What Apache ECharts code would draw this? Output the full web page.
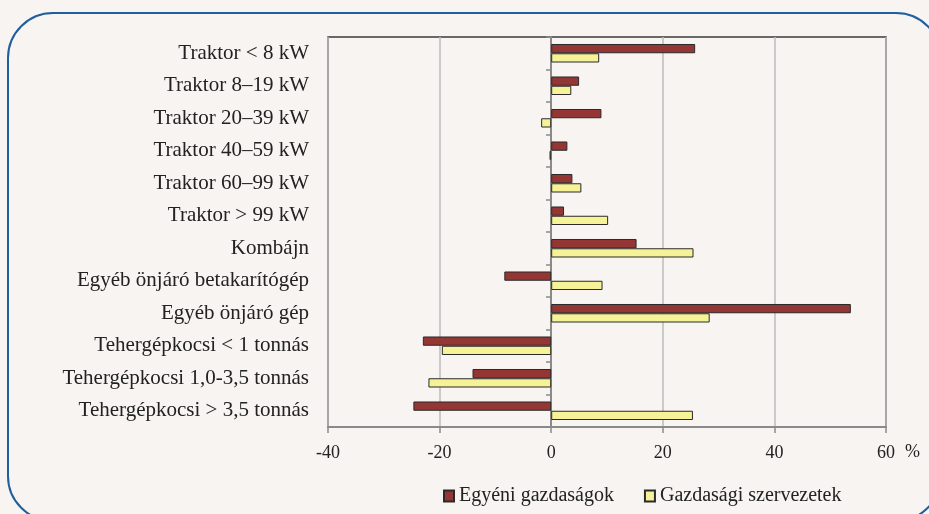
<!DOCTYPE html>
<html>
<head>
<meta charset="utf-8">
<script src="https://cdn.jsdelivr.net/npm/echarts@6/dist/echarts.min.js"></script>
<style>
html, body { margin: 0; padding: 0; background: #f7f4f1; }
#chart { width: 929px; height: 514px; }
</style>
</head>
<body>
<div id="chart"></div>
<script>
var dom = document.getElementById("chart");
var myChart = echarts.init(dom);

// categories, top to bottom
var categories = [
    'Traktor < 8 kW',
    'Traktor 8–19 kW',
    'Traktor 20–39 kW',
    'Traktor 40–59 kW',
    'Traktor 60–99 kW',
    'Traktor > 99 kW',
    'Kombájn',
    'Egyéb önjáró betakarítógép',
    'Egyéb önjáró gép',
    'Tehergépkocsi < 1 tonnás',
    'Tehergépkocsi 1,0-3,5 tonnás',
    'Tehergépkocsi > 3,5 tonnás'
];
var egyeni = [25.8, 5.0, 9.0, 2.9, 3.8, 2.3, 15.3, -8.4, 53.7, -23.0, -14.1, -24.7];
var gazdasagi = [8.6, 3.6, -1.8, -0.3, 5.4, 10.2, 25.5, 9.2, 28.4, -19.6, -22.0, 25.4];
var xTicks = [-40, -20, 0, 20, 40, 60];

var serif = '"Liberation Serif", "DejaVu Serif", serif';

var option = {
    backgroundColor: '#f7f4f1',
    animation: false,
    textStyle: { fontFamily: serif },
    graphic: [{
        type: 'rect',
        shape: { x: 8, y: 13, width: 933, height: 508, r: 45 },
        style: { fill: 'none', stroke: '#1f5f9e', lineWidth: 2 },
        silent: true
    }],
    legend: {
        top: 481,
        left: 438,
        icon: 'rect',
        itemWidth: 10,
        itemHeight: 11,
        itemGap: 30,
        textStyle: { fontFamily: serif, fontSize: 20, color: '#222' },
        data: ['Egyéni gazdaságok', 'Gazdasági szervezetek']
    },
    grid: {
        left: 328,
        right: 43,
        top: 37,
        bottom: 87,
        show: true,
        borderColor: '#3a3a3a',
        borderWidth: 1.5,
        backgroundColor: 'transparent'
    },
    xAxis: {
        type: 'value',
        min: xTicks[0],
        max: xTicks[xTicks.length - 1],
        interval: 20,
        name: '%',
        nameLocation: 'end',
        nameGap: 19,
        nameTextStyle: { fontFamily: serif, fontSize: 18, color: '#222', verticalAlign: 'top', padding: [16, 0, 0, 0] },
        axisLine: { show: true, lineStyle: { color: '#8a8a8a', width: 2 } },
        axisTick: { show: true, length: 6, lineStyle: { color: '#8a8a8a', width: 1.5 } },
        axisLabel: { fontFamily: serif, fontSize: 18, color: '#222', margin: 17 },
        splitLine: { show: true, lineStyle: { color: '#bdbdbd', width: 1.5 } }
    },
    yAxis: [{
        type: 'category',
        inverse: true,
        data: categories,
        axisLine: { show: false },
        axisTick: { show: false },
        axisLabel: { fontFamily: serif, fontSize: 21, color: '#222', margin: 19 }
    }, {
        // zero line with ticks, moved in to x = 0
        type: 'category',
        inverse: true,
        data: categories,
        position: 'left',
        offset: -223,
        axisLine: { show: true, onZero: false, lineStyle: { color: '#8a8a8a', width: 2 } },
        axisTick: { show: true, length: 5, lineStyle: { color: '#8a8a8a', width: 1.5 } },
        axisLabel: { show: false },
        splitLine: { show: false }
    }],
    series: [{
        name: 'Egyéni gazdaságok',
        type: 'bar',
        yAxisIndex: 0,
        barGap: 0,
        barCategoryGap: '43%',
        itemStyle: { color: '#943634', borderColor: '#2a2a2a', borderWidth: 1 },
        data: egyeni
    }, {
        name: 'Gazdasági szervezetek',
        type: 'bar',
        yAxisIndex: 0,
        barGap: 0,
        barCategoryGap: '43%',
        itemStyle: { color: '#f6f297', borderColor: '#2a2a2a', borderWidth: 1 },
        data: gazdasagi
    }]
};

myChart.setOption(option);
</script>
</body>
</html>
